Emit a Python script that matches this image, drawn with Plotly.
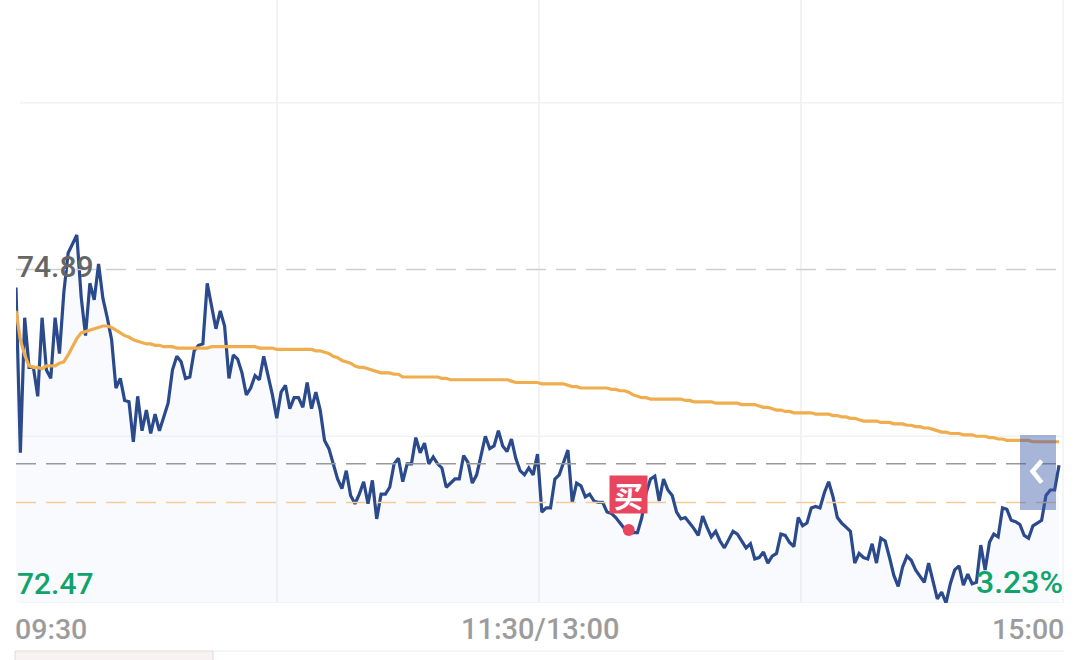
import plotly.graph_objects as go

PRICE = [
74.76,73.56,74.54,74.18,74.18,73.97,74.54,74.16,74.10,74.54,
74.28,74.72,75.01,75.08,75.14,74.69,74.41,74.79,74.67,74.93,
74.68,74.54,74.38,74.03,74.10,73.94,73.93,73.64,73.97,73.72,
73.87,73.70,73.84,73.72,73.83,73.92,74.16,74.26,74.22,74.10,
74.11,74.30,74.34,74.35,74.79,74.61,74.46,74.59,74.48,74.10,
74.27,74.24,74.14,73.98,74.03,74.12,74.09,74.26,74.12,73.98,
73.81,74.00,74.05,73.88,73.96,73.96,73.89,74.07,73.88,74.00,
73.87,73.65,73.59,73.47,73.37,73.30,73.43,73.25,73.19,73.26,
73.35,73.19,73.36,73.08,73.26,73.26,73.31,73.48,73.52,73.35,
73.48,73.48,73.67,73.56,73.63,73.48,73.53,73.48,73.45,73.31,
73.34,73.37,73.37,73.54,73.49,73.34,73.40,73.53,73.68,73.59,
73.61,73.72,73.61,73.57,73.66,73.52,73.43,73.40,73.45,73.40,
73.55,73.13,73.16,73.16,73.37,73.40,73.49,73.58,73.20,73.34,
73.32,73.24,73.26,73.21,73.20,73.20,73.13,73.12,73.09,73.05,
73.01,73.00,72.98,72.98,73.09,73.27,73.37,73.39,73.21,73.37,
73.29,73.25,73.13,73.08,73.09,73.05,73.01,72.96,73.10,73.02,
72.95,72.99,72.92,72.87,72.93,72.99,72.97,72.92,72.87,72.90,
72.79,72.80,72.84,72.76,72.81,72.83,72.97,72.96,72.91,72.88,
73.09,73.03,73.05,73.16,73.17,73.16,73.27,73.35,73.24,73.09,
73.05,73.02,72.99,72.76,72.83,72.80,72.79,72.90,72.76,72.94,
72.92,72.80,72.67,72.59,72.73,72.81,72.78,72.71,72.66,72.62,
72.76,72.63,72.50,72.55,72.47,72.61,72.71,72.74,72.60,72.68,
72.61,72.62,72.89,72.71,72.91,72.97,72.95,73.16,73.15,73.07,
73.06,73.04,72.96,72.94,73.03,73.05,73.07,73.25,73.29,73.29,
73.47]

AVERAGE = [
74.59,74.38,74.27,74.19,74.18,74.18,74.17,74.19,74.19,74.19,
74.21,74.22,74.27,74.33,74.39,74.43,74.44,74.45,74.46,74.47,
74.48,74.48,74.47,74.45,74.43,74.41,74.40,74.38,74.37,74.36,
74.35,74.35,74.34,74.34,74.33,74.33,74.33,74.32,74.32,74.32,
74.32,74.32,74.32,74.32,74.32,74.33,74.33,74.33,74.33,74.33,
74.33,74.33,74.33,74.33,74.33,74.33,74.32,74.32,74.32,74.32,
74.31,74.31,74.31,74.31,74.31,74.31,74.31,74.31,74.31,74.30,
74.30,74.29,74.28,74.26,74.25,74.23,74.22,74.21,74.19,74.18,
74.18,74.17,74.16,74.15,74.14,74.14,74.14,74.13,74.13,74.11,
74.11,74.11,74.11,74.11,74.11,74.11,74.11,74.11,74.10,74.10,
74.09,74.09,74.09,74.09,74.09,74.09,74.09,74.09,74.09,74.09,
74.09,74.09,74.09,74.09,74.08,74.07,74.07,74.07,74.07,74.07,
74.07,74.06,74.06,74.06,74.06,74.06,74.06,74.05,74.04,74.04,
74.03,74.03,74.03,74.03,74.03,74.03,74.03,74.02,74.02,74.01,
74.01,74.00,73.98,73.97,73.96,73.96,73.95,73.95,73.95,73.95,
73.95,73.95,73.95,73.95,73.94,73.94,73.93,73.93,73.93,73.93,
73.93,73.92,73.92,73.92,73.92,73.92,73.92,73.91,73.91,73.91,
73.91,73.90,73.89,73.89,73.88,73.87,73.87,73.86,73.86,73.85,
73.85,73.85,73.85,73.85,73.84,73.84,73.84,73.84,73.83,73.83,
73.82,73.82,73.81,73.81,73.80,73.79,73.79,73.79,73.79,73.78,
73.78,73.78,73.77,73.77,73.77,73.76,73.76,73.75,73.75,73.74,
73.74,73.73,73.72,73.71,73.71,73.70,73.70,73.70,73.69,73.69,
73.69,73.68,73.68,73.68,73.67,73.67,73.66,73.66,73.65,73.65,
73.65,73.65,73.65,73.65,73.64,73.64,73.64,73.64,73.64,73.64,
73.64]

MINUTES = list(range(len(PRICE)))
TICK_POS = [0, 60, 120.3, 180.7]
GRID_PRICES = [72.47, 73.68, 76.10]
PREV_CLOSE = 74.89
LOW = 72.47
PCT_LABEL = "3.23%"
LAST = 73.48
BUY_PRICE = 73.20
BUY_INDEX = 141
BUY_VALUE = 73.00

BLUE, ORANGE, GREEN, GRID = "#2a4a8c", "#f0ad4e", "#10a36b", "#f0f2f6"
FONT = "Roboto"

L, R, T, B = 16, 1063, 0, 603
W, H = 1080, 660
XMAX = 240 * (R - L) / (1059 - L)
YMAX = LOW + (B - T) * (PREV_CLOSE - LOW) / 333.5


def px(x):
    return (x - L) / (R - L)


def py(y):
    return (B - y) / (B - T)


fig = go.Figure()
fig.add_trace(go.Scatter(x=MINUTES, y=PRICE, mode="lines", line=dict(color=BLUE, width=3.2),
                         fill="tozeroy", fillcolor="rgba(220,232,252,0.2)", name="价格", hoverinfo="skip"))
fig.add_trace(go.Scatter(x=MINUTES, y=AVERAGE, mode="lines", line=dict(color=ORANGE, width=3.2),
                         name="均价", hoverinfo="skip"))
fig.add_trace(go.Scatter(x=[BUY_INDEX], y=[BUY_VALUE], mode="markers",
                         marker=dict(color="#e8465f", size=12), hoverinfo="skip"))

shapes = []
for g in GRID_PRICES:
    shapes.append(dict(type="line", xref="paper", yref="y", x0=px(20), x1=1, y0=g, y1=g,
                       line=dict(color=GRID, width=1.5), layer="below"))
shapes.append(dict(type="line", xref="paper", yref="paper", x0=px(1063), x1=px(1063), y0=0, y1=1,
                   line=dict(color=GRID, width=1.5), layer="below"))
for t, c, w in [(PREV_CLOSE, "#cdcdcd", 1.5), (LAST, "#999999", 1.5), (BUY_PRICE, "#f4cd96", 1.5)]:
    shapes.append(dict(type="line", xref="paper", yref="y", x0=0, x1=px(1058), y0=t, y1=t,
                       line=dict(color=c, width=w, dash="20px,10px"), layer="above"))
shapes.append(dict(type="rect", xref="paper", yref="paper", x0=px(1020), x1=px(1056), y0=py(510), y1=py(435),
                   fillcolor="rgba(60,90,170,0.45)", line=dict(width=0), layer="above"))
shapes.append(dict(type="path", xref="paper", yref="paper",
                   path=f"M {px(1041.7)} {py(460.7)} L {px(1032.5)} {py(471.2)} L {px(1041.7)} {py(482.7)}",
                   line=dict(color="white", width=4.5), layer="above"))
# bottom card edge
shapes.append(dict(type="line", xref="paper", yref="paper", x0=px(213), x1=px(1064), y0=py(651), y1=py(651),
                   line=dict(color="#ececec", width=1), layer="above"))
shapes.append(dict(type="rect", xref="paper", yref="paper", x0=px(15), x1=px(213), y0=py(662), y1=py(651),
                   fillcolor="#f8f2f3", line=dict(color="#e3d9db", width=1), layer="above"))

ann = [
    dict(x=0, y=PREV_CLOSE, xref="x", yref="y", text=f"{PREV_CLOSE:.2f}", xanchor="left", yanchor="middle",
         xshift=-1, yshift=3, font=dict(size=30, color="#666666", weight=500)),
    dict(x=0, y=LOW, xref="x", yref="y", text=f"{LOW:.2f}", xanchor="left", yanchor="bottom",
         xshift=-1, yshift=0, font=dict(size=30, color=GREEN, weight=500)),
    dict(x=1, y=LOW, xref="paper", yref="y", text=PCT_LABEL, xanchor="right", yanchor="bottom",
         xshift=2, yshift=0, font=dict(size=32, color=GREEN, weight=500)),
    dict(x=0, y=py(629), xref="x", yref="paper", text="09:30", xanchor="left", yanchor="middle",
         xshift=-3, font=dict(size=28.5, color="#9c9c9c", weight=500)),
    dict(x=120, y=py(629), xref="x", yref="paper", text="11:30/13:00", xanchor="center", yanchor="middle",
         font=dict(size=29, color="#9c9c9c", weight=500), xshift=2),
    dict(x=1, y=py(629), xref="paper", yref="paper", text="15:00", xanchor="right", yanchor="middle",
         xshift=3, font=dict(size=28.5, color="#9c9c9c", weight=500)),
    dict(x=px(628.5), y=py(494.5), xref="paper", yref="paper", text="<b>买</b>", xanchor="center", yanchor="middle",
         width=35, height=35, bgcolor="#e8465f", font=dict(size=29, color="white", family="Noto Sans CJK SC")),
]
for a in ann:
    a["showarrow"] = False

fig.update_layout(
    width=W, height=H, paper_bgcolor="white", plot_bgcolor="white", showlegend=False,
    margin=dict(l=L, r=W - R, t=T, b=H - B, pad=0),
    font=dict(family=FONT),
    xaxis=dict(range=[0, XMAX], tickmode="array", tickvals=TICK_POS, ticktext=[""] * 4,
               showgrid=True, gridcolor=GRID, gridwidth=1.5, zeroline=False, showline=False, ticks=""),
    yaxis=dict(range=[LOW, YMAX], showticklabels=False, showgrid=False, zeroline=False, ticks=""),
    shapes=shapes, annotations=ann,
)
fig.write_html("out.html", post_script="document.body.style.margin='0';", config=dict(displayModeBar=False))
